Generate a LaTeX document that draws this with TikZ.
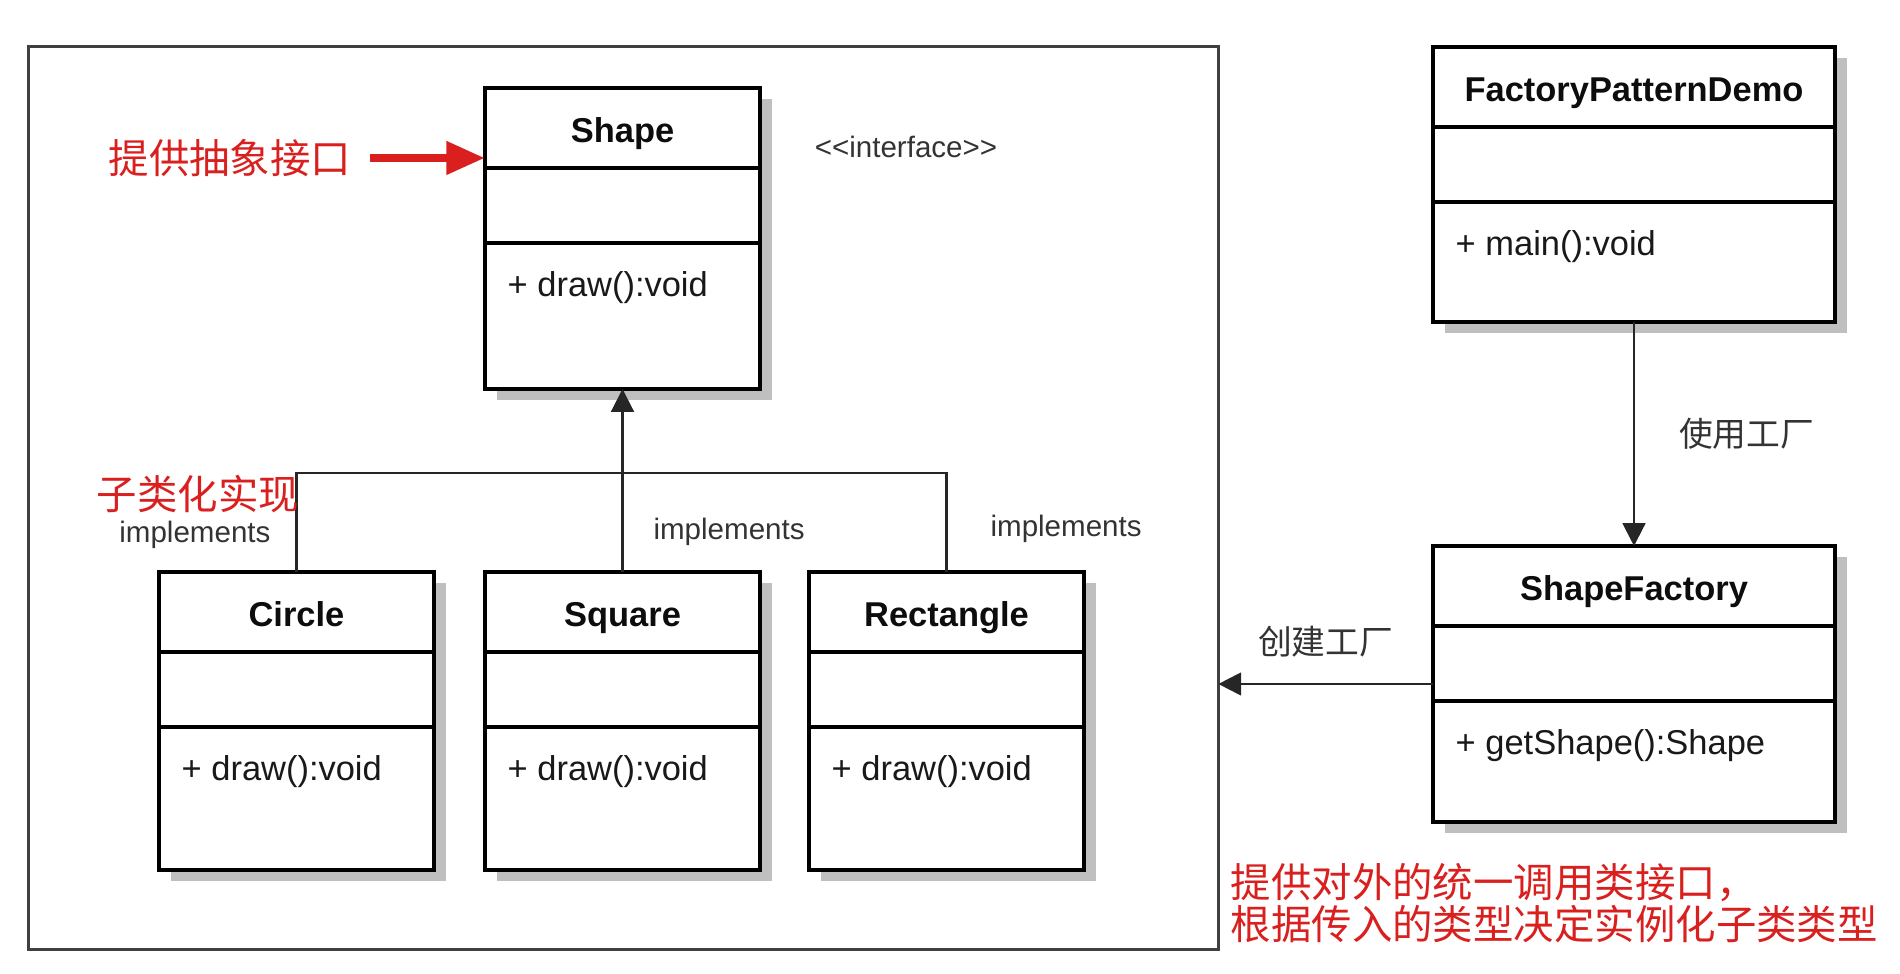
\documentclass[tikz,border=0pt]{standalone}
\usepackage{fontspec}
\setmainfont{Liberation Sans}
\newfontfamily\cjk{Noto Sans CJK SC}
\usetikzlibrary{positioning}
\usetikzlibrary{calc}
\usetikzlibrary{shadows}
\usetikzlibrary{arrows.meta}
\definecolor{notered}{HTML}{D9201F}

\tikzset{
  frame/.style={draw=black!75, line width=0.85pt, outer sep=0pt},
  classbox/.style={draw=black, line width=1.1pt, fill=white, outer sep=0pt,
    drop shadow={shadow xshift=0.12cm, shadow yshift=-0.11cm, fill=black!25, opacity=1}},
  divider/.style={line width=1.1pt},
  classtitle/.style={anchor=base, inner sep=0pt, text=black!95, font=\fontsize{9.8}{11}\selectfont\bfseries},
  classmethod/.style={anchor=base west, inner sep=0pt, text=black!90, font=\fontsize{9.8}{11}\selectfont},
  implabel/.style={inner sep=0pt, text=black!80, font=\fontsize{8.4}{10}\selectfont},
  cnlabel/.style={inner sep=0pt, text=black!80, font=\cjk\fontsize{9.6}{11}\selectfont},
  rednote/.style={inner sep=0pt, text=notered, font=\cjk\fontsize{11.5}{11.9}\selectfont},
  connector/.style={draw=black!85, line width=0.6pt},
  uses/.style={connector, -{Triangle[length=6.5pt, width=6.5pt]}},
  redarrow/.style={draw=notered, line width=2.4pt, -{Triangle[length=11pt, width=9pt]}},
}

% class box: name, x, y (north west), width, height, title, method
\newcommand{\umlclass}[7]{%
  \node[classbox, minimum width=#4*0.01cm, minimum height=#5*0.01cm, anchor=north west] (#1) at (#2,#3) {};
  \draw[divider] ($(#1.north west)+(0,80)$) -- ($(#1.north east)+(0,80)$);
  \draw[divider] ($(#1.north west)+(0,155)$) -- ($(#1.north east)+(0,155)$);
  \node[classtitle] (#1-title) at ($(#1.north)+(0,55)$) {#6};
  \node[classmethod] (#1-method) at ($(#1.north west)+(22,209)$) {#7};
}

\begin{document}
\begin{tikzpicture}[x=0.01cm, y=-0.01cm]
  \useasboundingbox (0,0) rectangle (1900,974);

  % Frame round the shapes
  \node[frame, minimum width=11.89cm, minimum height=9.02cm] (frame) at (623.5,498) {};

  % Interface
  \umlclass{shape}{485}{88}{275}{301}{Shape}{+ draw():void}
  \node[implabel] (stereotype) at (906,147) {<\kern0pt<interface>\kern0pt>};
  \node[rednote] (abstractnote) at (230,158) {提供抽象接口};
  \draw[redarrow, shorten <=0.18cm] (abstractnote.east) -- (abstractnote.east -| shape.west);

  % Subclasses
  \umlclass{circle}{159}{572}{275}{298}{Circle}{+ draw():void}
  \umlclass{square}{485}{572}{275}{298}{Square}{+ draw():void}
  \umlclass{rectangle}{809}{572}{275}{298}{Rectangle}{+ draw():void}

  \coordinate (split) at ($(square.north)+(0,-99)$);
  \draw[connector] (circle.north) -- node[implabel, pos=0.37, left=0.25cm] {implements} (circle.north |- split)
    -- (split) -| node[implabel, pos=0.78, right=0.43cm] {implements} (rectangle.north);
  \draw[uses] (square.north) -- node[implabel, pos=0.22, right=0.3cm] {implements} (shape.south);
  \node[rednote] (subnote) at (198,494) {子类化实现};

  % Client and factory
  \umlclass{demo}{1433}{47}{402}{275}{FactoryPatternDemo}{+ main():void}
  \umlclass{factory}{1433}{546}{402}{276}{ShapeFactory}{+ getShape():Shape}

  \draw[uses] (demo.south) -- node[cnlabel, right=0.44cm] {使用工厂} (factory.north);
  \draw[uses] (factory.west) -- node[cnlabel, above=0.26cm] {创建工厂} (factory.west -| frame.east);

  \node[rednote, anchor=west, align=left] (factorynote) at (1230,903) {提供对外的统一调用类接口，\\根据传入的类型决定实例化子类类型};
\end{tikzpicture}
\end{document}
